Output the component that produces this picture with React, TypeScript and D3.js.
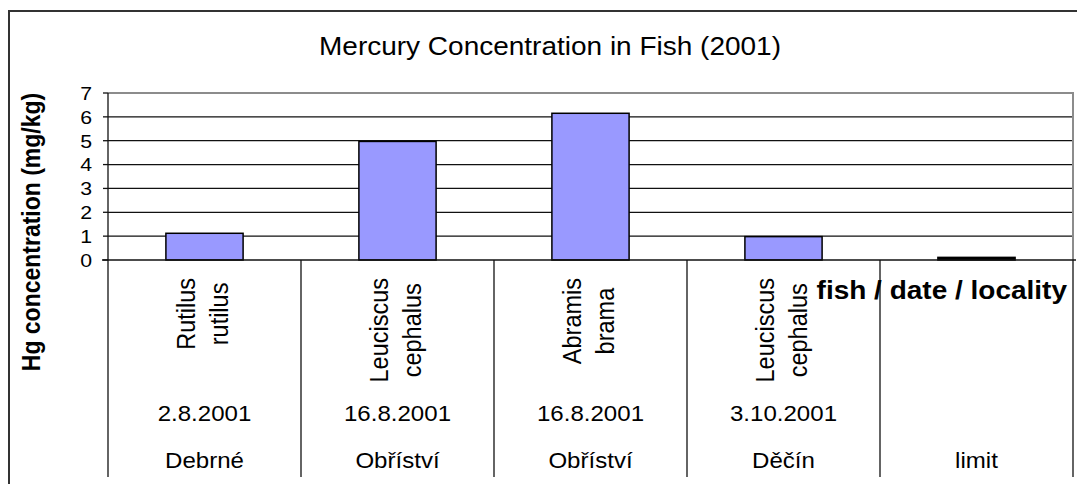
import { useEffect, useRef } from 'react'
import * as d3 from 'd3'

const fishNames = [
  ['Rutilus', 'rutilus'],
  ['Leuciscus', 'cephalus'],
  ['Abramis', 'brama'],
  ['Leuciscus', 'cephalus'],
  [],
]
const dates = ['2.8.2001', '16.8.2001', '16.8.2001', '3.10.2001', '']
const localities = ['Debrné', 'Obříství', 'Obříství', 'Děčín', 'limit']
const hgValues = [1.12, 4.97, 6.15, 0.98, 0.11]
const yTicks = [0, 1, 2, 3, 4, 5, 6, 7]

const W = 1077
const H = 484
// the source picture is a bit wider than its fonts
const SX = 1.12
const FONT = '"Liberation Sans", Arial, sans-serif'

export default function App() {
  const svgRef = useRef<SVGSVGElement>(null)

  useEffect(() => {
    if (!svgRef.current) return
    const svg = d3.select(svgRef.current)
    svg.selectAll('*').remove()

    const plot = { left: 108, right: 1073, top: 93, bottom: 260 }
    const catBottom = 477

    const x = d3.scaleBand<number>()
      .domain(hgValues.map((_, i) => i))
      .range([plot.left, plot.right])
      .paddingInner(0.6)
      .paddingOuter(0.3)
    const step = x.step()

    const y = d3.scaleLinear().domain([0, 7]).range([plot.bottom, plot.top])

    // outer chart frame
    svg.append('rect')
      .attr('x', 9).attr('y', 11)
      .attr('width', 1090).attr('height', 490)
      .attr('fill', '#fff')
      .attr('stroke', '#333').attr('stroke-width', 2)

    svg.append('text')
      .attr('transform', `translate(550,55) scale(${SX},1)`)
      .attr('text-anchor', 'middle')
      .style('font-family', FONT)
      .style('font-size', '25px')
      .text('Mercury Concentration in Fish (2001)')

    // gridlines
    svg.append('g')
      .selectAll('line')
      .data(yTicks.filter(t => t > 0 && t < 7))
      .join('line')
      .attr('x1', plot.left).attr('x2', plot.right)
      .attr('y1', d => y(d)).attr('y2', d => y(d))
      .attr('stroke', '#111').attr('stroke-width', 1.2)

    // plot border (gray)
    svg.append('path')
      .attr('d', `M${plot.left},${plot.top}H${plot.right}V${plot.bottom}`)
      .attr('fill', 'none')
      .attr('stroke', '#8c8c8c').attr('stroke-width', 2)

    // bars
    svg.append('g')
      .selectAll('rect')
      .data(hgValues)
      .join('rect')
      .attr('x', (_, i) => x(i)!)
      .attr('y', d => y(d))
      .attr('width', x.bandwidth())
      .attr('height', d => y(0) - y(d))
      .attr('fill', (_, i) => (i === hgValues.length - 1 ? '#000' : '#9999ff'))
      .attr('stroke', '#000').attr('stroke-width', 1.5)

    // value axis
    svg.append('line')
      .attr('x1', plot.left).attr('x2', plot.left)
      .attr('y1', plot.top).attr('y2', catBottom)
      .attr('stroke', '#111').attr('stroke-width', 1.3)
    svg.append('g')
      .selectAll('line')
      .data(yTicks)
      .join('line')
      .attr('x1', plot.left - 5).attr('x2', plot.left)
      .attr('y1', d => y(d)).attr('y2', d => y(d))
      .attr('stroke', '#111').attr('stroke-width', 1.3)
    svg.append('g')
      .selectAll('text')
      .data(yTicks)
      .join('text')
      .attr('transform', d => `translate(92,${y(d)}) scale(${SX},1)`)
      .attr('dy', '0.36em')
      .attr('text-anchor', 'end')
      .style('font-family', FONT)
      .style('font-size', '19px')
      .text(d => d)

    svg.append('text')
      .attr('transform', `translate(40,232) scale(${SX},1) rotate(-90)`)
      .attr('text-anchor', 'middle')
      .style('font-family', FONT)
      .style('font-size', '23px')
      .style('font-weight', 'bold')
      .text('Hg concentration (mg/kg)')

    // category axis
    svg.append('line')
      .attr('x1', plot.left - 6).attr('x2', plot.right + 3)
      .attr('y1', plot.bottom).attr('y2', plot.bottom)
      .attr('stroke', '#111').attr('stroke-width', 1.5)
    svg.append('g')
      .selectAll('line')
      .data(d3.range(1, hgValues.length + 1))
      .join('line')
      .attr('x1', i => plot.left + i * step).attr('x2', i => plot.left + i * step)
      .attr('y1', plot.bottom).attr('y2', catBottom)
      .attr('stroke', '#111').attr('stroke-width', 1.3)

    const cats = svg.append('g')
      .style('font-family', FONT)
      .style('font-size', '23.5px')

    fishNames.forEach((lines, i) => {
      const cx = x(i)! + x.bandwidth() / 2
      const texts = lines.map((t, j) =>
        cats.append('text')
          .attr('text-anchor', 'middle')
          .attr('data-x', cx - 9.5 + j * 33)
          .text(t)
      )
      const maxLen = d3.max(texts, t => (t.node() as SVGTextElement).getComputedTextLength()) || 0
      texts.forEach(t => {
        t.attr('transform', `translate(${t.attr('data-x')},${278 + maxLen / 2}) scale(${SX},1) rotate(-90)`)
      })

      cats.append('text')
        .attr('transform', `translate(${cx},421) scale(${SX},1)`)
        .attr('text-anchor', 'middle')
        .style('font-size', '21.5px')
        .text(dates[i])
      cats.append('text')
        .attr('transform', `translate(${cx},468) scale(${SX},1)`)
        .attr('text-anchor', 'middle')
        .style('font-size', '21.5px')
        .text(localities[i])
    })

    svg.append('text')
      .attr('transform', `translate(1067,299) scale(${SX},1)`)
      .attr('text-anchor', 'end')
      .style('font-family', FONT)
      .style('font-size', '25px')
      .style('font-weight', 'bold')
      .text('fish / date / locality')
  }, [])

  return (
    <svg
      ref={svgRef}
      width={W}
      height={H}
      style={{ position: 'absolute', left: 0, top: 0, background: '#fff' }}
    />
  )
}
